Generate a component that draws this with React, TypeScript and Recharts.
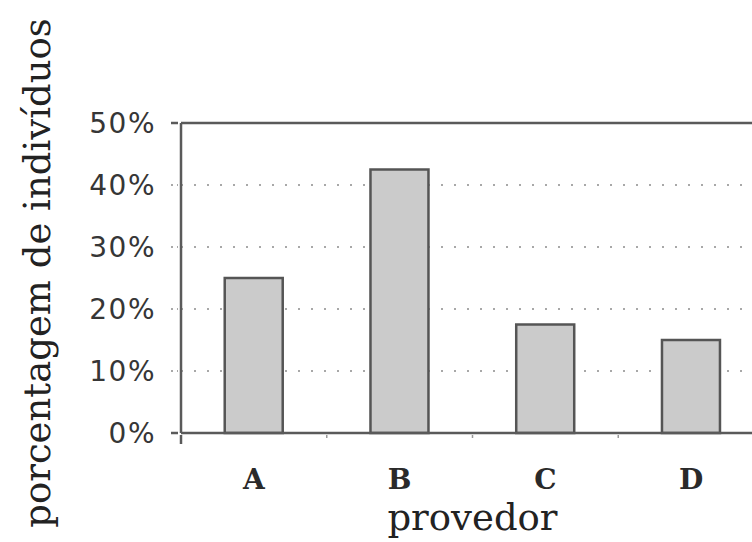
import React from 'react';
import {
  BarChart,
  Bar,
  XAxis,
  YAxis,
  CartesianGrid,
  ReferenceLine,
} from 'recharts';

// Share of individuals per provider, in percent
const providers = ['A', 'B', 'C', 'D'];
const shares = [25, 42.5, 17.5, 15];
const yTicks = [0, 10, 20, 30, 40, 50];

const data = providers.map((name, i) => ({ name, share: shares[i] }));

const AXIS_COLOR = '#5a5a5a';
const GRID_COLOR = '#a8a8a8';
const SERIF = '"DejaVu Serif", serif';
const SANS = '"DejaVu Sans", sans-serif';

const YTick = (props: any) => {
  const { x, y, payload } = props;
  const edge = payload.value === 0 || payload.value === 50;
  return (
    <g>
      <line
        x1={x - 1}
        x2={x + 6}
        y1={y}
        y2={y}
        stroke={edge ? AXIS_COLOR : GRID_COLOR}
        strokeWidth={edge ? 2.5 : 2}
        strokeDasharray={edge ? undefined : '2 4'}
      />
      <text
        x={x - 16}
        y={y}
        dy="0.36em"
        textAnchor="end"
        fontFamily={SANS}
        fontSize={28}
        letterSpacing={1.5}
        fill="#363636"
      >
        {`${payload.value}%`}
      </text>
    </g>
  );
};

const XTick = (props: any) => {
  const { x, y, payload, index } = props;
  const boundary = x - (payload.offset || 0);
  return (
    <g>
      <line
        x1={boundary}
        x2={boundary}
        y1={y}
        y2={y + (index === 0 ? 9 : 3)}
        stroke={index === 0 ? AXIS_COLOR : '#999'}
        strokeWidth={index === 0 ? 2.5 : 1.5}
      />
      <text
        x={x}
        y={y + 34}
        dy="0.71em"
        textAnchor="middle"
        fontFamily={SERIF}
        fontSize={28}
        fontWeight="bold"
        fill="#2a2a2a"
      >
        {payload.value}
      </text>
    </g>
  );
};

const YTitle = (props: any) => {
  const { viewBox } = props;
  const cx = viewBox.x + 50;
  const cy = viewBox.y + viewBox.height / 2 - 5;
  return (
    <text
      x={cx}
      y={cy}
      transform={`rotate(-90 ${cx} ${cy})`}
      textAnchor="middle"
      fontFamily={SERIF}
      fontSize={37}
      fill="#222"
    >
      porcentagem de indivíduos
    </text>
  );
};

const XTitle = (props: any) => {
  const { viewBox } = props;
  return (
    <text
      x={viewBox.x + viewBox.width / 2}
      y={viewBox.y + 97}
      textAnchor="middle"
      fontFamily={SERIF}
      fontSize={37}
      fill="#222"
    >
      provedor
    </text>
  );
};

export default function App() {
  return (
    <div
      style={{
        position: 'fixed',
        left: 0,
        top: 0,
        width: 752,
        height: 542,
        overflow: 'hidden',
        background: '#fff',
      }}
    >
      <BarChart
        width={800}
        height={542}
        data={data}
        margin={{ top: 123, right: 36, left: 0, bottom: 0 }}
        barCategoryGap="30%"
      >
        <CartesianGrid
          vertical={false}
          stroke={GRID_COLOR}
          strokeWidth={2}
          strokeDasharray="2 11"
        />
        <XAxis
          dataKey="name"
          height={109}
          tickLine={false}
          tickSize={0}
          axisLine={{ stroke: AXIS_COLOR, strokeWidth: 2.5 }}
          tick={<XTick />}
          interval={0}
          label={<XTitle />}
        />
        <YAxis
          width={181}
          domain={[0, 50]}
          ticks={yTicks}
          tickLine={false}
          tickSize={7}
          axisLine={{ stroke: AXIS_COLOR, strokeWidth: 2.5 }}
          tick={<YTick />}
          label={<YTitle />}
        />
        <ReferenceLine y={50} stroke={AXIS_COLOR} strokeWidth={2.5} />
        <Bar
          dataKey="share"
          fill="#cbcbcb"
          stroke="#555"
          strokeWidth={2.5}
          isAnimationActive={false}
        />
      </BarChart>
    </div>
  );
}
